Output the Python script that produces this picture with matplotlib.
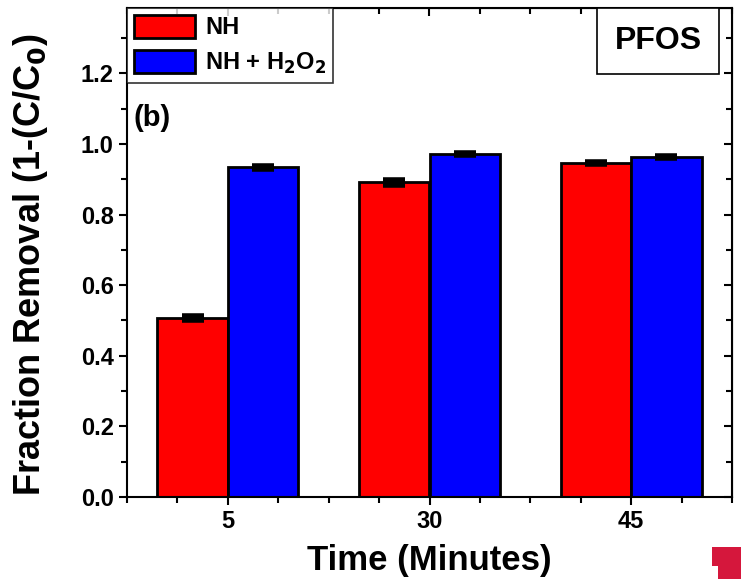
import numpy as np
import matplotlib
matplotlib.use("Agg")
import matplotlib.pyplot as plt
from matplotlib.ticker import MultipleLocator
from matplotlib.patches import Polygon

# data
times = ["5", "30", "45"]
nh = [0.508, 0.891, 0.946]
nh_err = [0.006, 0.008, 0.003]
nh_h2o2 = [0.934, 0.972, 0.962]
nh_h2o2_err = [0.004, 0.003, 0.003]

plt.rcParams['font.family'] = ['Liberation Sans', 'DejaVu Sans']
plt.rcParams['font.weight'] = 'bold'

fig = plt.figure(figsize=(7.41, 5.79), dpi=100)
ax = fig.add_axes([127/741, 1-497/579, (732-127)/741, (497-8)/579])

x = np.arange(1, len(times)+1)
w = 0.35
ax.bar(x-w/2, nh, w, color='#ff0000', edgecolor='black', linewidth=2, label='NH', zorder=2)
ax.bar(x+w/2, nh_h2o2, w, color='#0000ff', edgecolor='black', linewidth=2, label='NH + H$_2$O$_2$', zorder=2)
ax.errorbar(x-w/2, nh, yerr=nh_err, fmt='none', ecolor='black', elinewidth=2, capsize=8, capthick=4, zorder=3)
ax.errorbar(x+w/2, nh_h2o2, yerr=nh_h2o2_err, fmt='none', ecolor='black', elinewidth=2, capsize=8, capthick=4, zorder=3)

ax.set_xlim(0.5, 3.5)
ax.set_ylim(0, 1.385)
ax.set_xticks(x)
ax.set_xticklabels(times)
ax.xaxis.set_minor_locator(MultipleLocator(0.25))
ax.yaxis.set_major_locator(MultipleLocator(0.2))
ax.yaxis.set_minor_locator(MultipleLocator(0.1))
ax.tick_params(which='major', direction='out', length=6, width=1.5, labelsize=17)
ax.tick_params(which='minor', direction='out', length=4, width=1.5)
for s in ax.spines.values():
    s.set_linewidth(1.5)

# top / right ticks point inward
top = ax.secondary_xaxis('top')
top.set_xticks(x)
top.xaxis.set_minor_locator(MultipleLocator(0.25))
top.tick_params(which='both', direction='in', labeltop=False, width=1.5)
top.tick_params(which='major', length=6)
top.tick_params(which='minor', length=4)
right = ax.secondary_yaxis('right')
right.yaxis.set_major_locator(MultipleLocator(0.2))
right.yaxis.set_minor_locator(MultipleLocator(0.1))
right.tick_params(which='both', direction='in', labelright=False, width=1.5)
right.tick_params(which='major', length=6)
right.tick_params(which='minor', length=4)

ax.set_xlabel("Time (Minutes)", fontsize=25, fontweight='bold', labelpad=8)
ax.set_ylabel("Fraction Removal (1-(C/C$_0$)", fontsize=26, fontweight='bold')
ax.yaxis.set_label_coords(-0.128, 0.475)

leg = ax.legend(loc='upper left', bbox_to_anchor=(0, 1), fontsize=17, frameon=True,
                fancybox=False, edgecolor='black', borderaxespad=0, handlelength=2.6,
                handleheight=1.1, handletextpad=0.4, borderpad=0.3, labelspacing=0.45)
leg.get_frame().set_linewidth(1.2)

ax.text(0.01, 0.775, "(b)", transform=ax.transAxes, fontsize=21, fontweight='bold', va='center')
ax.text(0.878, 0.9325, "PFOS", transform=ax.transAxes, fontsize=23, fontweight='bold',
        ha='center', va='center',
        bbox=dict(boxstyle='square,pad=0.55', facecolor='white', edgecolor='black', linewidth=1.2))

# small red logo in the bottom right corner
fig.patches.append(Polygon([[712/741, 1-547/579], [741/741, 1-547/579], [741/741, 0],
                            [718/741, 0], [718/741, 1-566/579], [712/741, 1-566/579]],
                           closed=True, transform=fig.transFigure, facecolor='#d5173c',
                           edgecolor='none'))

fig.savefig("out.png", dpi=100)
